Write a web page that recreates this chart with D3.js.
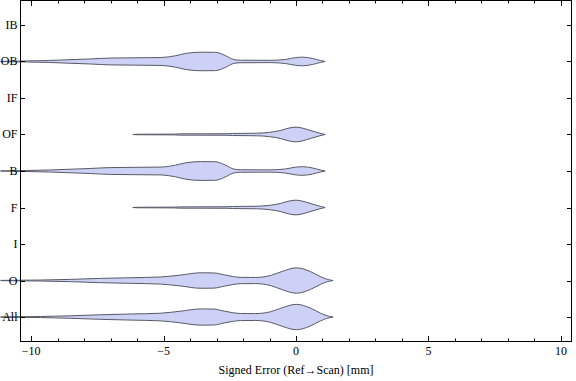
<!DOCTYPE html>
<html>
<head>
<meta charset="utf-8">
<script src="https://cdn.jsdelivr.net/npm/d3@7"></script>
<style>
  body { margin: 0; background: #fff; }
  text { font-family: "Liberation Serif", "DejaVu Serif", serif; }
</style>
</head>
<body>
<div id="chart-area"></div>
<script>
// categories, top to bottom
const categories = ['IB', 'OB', 'IF', 'OF', 'B', 'F', 'I', 'O', 'All'];
const xTicks = [-10, -5, 0, 5, 10];
const xTitle = 'Signed Error (Ref\u2192Scan) [mm]';

// violin profiles: [signed error in mm, relative density]
const profileOB = [
  [-11.15, 0.01], [-10.4, 0.03], [-9.3, 0.08], [-7.75, 0.2], [-7.0, 0.27], [-5.1, 0.31],
  [-4.55, 0.45], [-4.17, 0.63], [-3.6, 0.73], [-3.04, 0.72], [-2.67, 0.47], [-2.36, 0.16],
  [-2.1, 0.1], [-0.97, 0.09], [-0.4, 0.16], [-0.03, 0.3], [0.24, 0.34], [0.62, 0.24],
  [0.92, 0.08], [1.1, 0.0]
];
const profileB = [
  [-11.15, 0.01], [-10.4, 0.03], [-9.3, 0.08], [-7.75, 0.2], [-7.0, 0.27], [-5.1, 0.31],
  [-4.55, 0.46], [-4.17, 0.64], [-3.6, 0.74], [-3.04, 0.73], [-2.67, 0.47], [-2.36, 0.16],
  [-2.1, 0.1], [-0.97, 0.09], [-0.4, 0.16], [-0.03, 0.3], [0.24, 0.34], [0.62, 0.24],
  [0.92, 0.08], [1.1, 0.0]
];
const profileOF = [
  [-6.16, 0.0], [-6.0, 0.02], [-4.6, 0.03], [-4.4, 0.05], [-2.6, 0.06], [-2.4, 0.08],
  [-1.5, 0.1], [-1.0, 0.17], [-0.6, 0.31], [-0.3, 0.49], [0.0, 0.58], [0.3, 0.47],
  [0.6, 0.28], [0.9, 0.1], [1.1, 0.0]
];
const profileF = [
  [-6.16, 0.0], [-6.0, 0.02], [-4.6, 0.03], [-4.4, 0.05], [-2.6, 0.06], [-2.4, 0.08],
  [-1.5, 0.1], [-1.0, 0.17], [-0.6, 0.31], [-0.3, 0.49], [0.0, 0.58], [0.3, 0.47],
  [0.6, 0.28], [0.9, 0.1], [1.1, 0.0]
];
const profileO = [
  [-11.15, 0.01], [-9.64, 0.04], [-8.5, 0.09], [-7.38, 0.17], [-6.25, 0.22], [-5.12, 0.28],
  [-4.36, 0.43], [-3.6, 0.61], [-3.12, 0.6], [-2.67, 0.43], [-2.1, 0.25], [-1.53, 0.24],
  [-0.97, 0.39], [-0.48, 0.75], [0.01, 1.0], [0.54, 0.71], [0.92, 0.31], [1.14, 0.12],
  [1.4, 0.0]
];
const profileAll = [
  [-11.15, 0.01], [-9.64, 0.04], [-8.5, 0.1], [-7.38, 0.18], [-6.25, 0.24], [-5.12, 0.3],
  [-4.36, 0.46], [-3.6, 0.64], [-3.12, 0.63], [-2.67, 0.45], [-2.1, 0.28], [-1.53, 0.27],
  [-0.97, 0.41], [-0.48, 0.76], [0.01, 1.0], [0.54, 0.71], [0.92, 0.31], [1.14, 0.12],
  [1.4, 0.0]
];

const violins = [
  { cat: 'OB', values: profileOB },
  { cat: 'OF', values: profileOF },
  { cat: 'B', values: profileB },
  { cat: 'F', values: profileF },
  { cat: 'O', values: profileO },
  { cat: 'All', values: profileAll }
];

// frame edges
const W = 576, H = 381;
const frame = { left: 20.5, right: 571.5, top: 0.5, bottom: 341.5 };

const svg = d3.select('#chart-area')
  .append('svg')
  .attr('width', W)
  .attr('height', H);

const x = d3.scaleLinear().domain([-10.4, 10.4]).range([frame.left, frame.right]);
const y = d3.scalePoint().domain(categories).range([frame.top, frame.bottom]).padding(0.67);
const w = d3.scaleLinear().domain([0, 1]).range([0, 12.7]);

// violins
const area = d3.area()
  .x(d => x(d[0]))
  .curve(d3.curveMonotoneX);

violins.forEach(v => {
  const cy = y(v.cat);
  svg.append('path')
    .datum(v.values)
    .attr('d', area.y0(d => cy - w(d[1])).y1(d => cy + w(d[1])))
    .attr('fill', '#ccd1f5')
    .attr('stroke', '#5a5a66')
    .attr('stroke-width', 1);
});

// frame box
svg.append('rect')
  .attr('x', frame.left).attr('y', frame.top)
  .attr('width', frame.right - frame.left).attr('height', frame.bottom - frame.top)
  .attr('fill', 'none')
  .attr('stroke', '#000')
  .attr('stroke-width', 1);

// x ticks, inside, bottom and top
const minor = d3.range(-10, 11, 1);
const tickG = svg.append('g').attr('stroke', '#000').attr('stroke-width', 1);
minor.forEach(t => {
  const len = (t % 5 === 0) ? 5.5 : 3;
  const px = Math.round(x(t)) + 0.5;
  tickG.append('line').attr('x1', px).attr('x2', px).attr('y1', frame.bottom).attr('y2', frame.bottom - len);
  tickG.append('line').attr('x1', px).attr('x2', px).attr('y1', frame.top).attr('y2', frame.top + len);
});

// y ticks, inside, left and right
categories.forEach(c => {
  const py = Math.round(y(c)) + 0.5;
  tickG.append('line').attr('x1', frame.left).attr('x2', frame.left + 4.5).attr('y1', py).attr('y2', py);
  tickG.append('line').attr('x1', frame.right).attr('x2', frame.right - 4.5).attr('y1', py).attr('y2', py);
});

// tick labels
svg.append('g').selectAll('text')
  .data(xTicks)
  .enter()
  .append('text')
  .attr('x', d => x(d))
  .attr('y', frame.bottom + 13)
  .attr('text-anchor', 'middle')
  .attr('font-size', '12px')
  .text(d => d < 0 ? '\u2212' + Math.abs(d) : d);

svg.append('g').selectAll('text')
  .data(categories)
  .enter()
  .append('text')
  .attr('x', frame.left - 3)
  .attr('y', d => y(d) + 4)
  .attr('text-anchor', 'end')
  .attr('font-size', '12px')
  .text(d => d);

// axis title
svg.append('text')
  .attr('x', x(0))
  .attr('y', 374)
  .attr('text-anchor', 'middle')
  .attr('font-size', '12px')
  .text(xTitle);
</script>
</body>
</html>
